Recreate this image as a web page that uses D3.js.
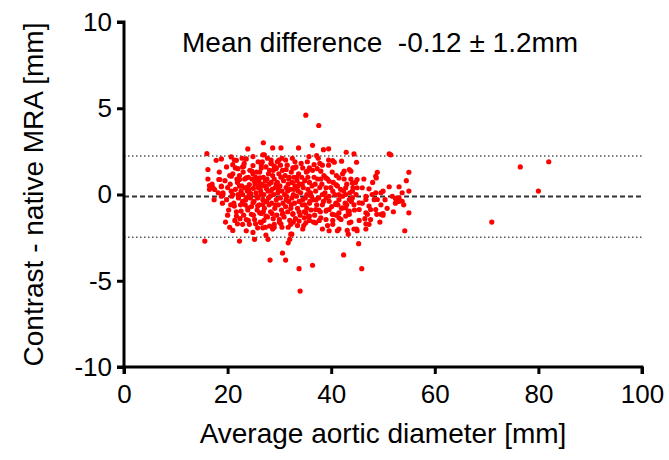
<!DOCTYPE html>
<html>
<head>
<meta charset="utf-8">
<script src="https://cdn.jsdelivr.net/npm/d3@7"></script>
<style>
  body { margin: 0; background: #fff; }
  text { font-family: "Liberation Sans", Arial, Helvetica, sans-serif; fill: #000; }
</style>
</head>
<body>
<div class="mainviz"></div>
<script>
// data: [average diameter mm, contrast - native mm]
var meanDiff = -0.12, sdDiff = 1.2;
var xTicks = [0, 20, 40, 60, 80, 100];
var yTicks = [-10, -5, 0, 5, 10];

var upperPoints = [[26.9,3.0],[28.7,2.7],[30.3,2.7],[33.7,2.7],[23.9,2.64],[16,2.37],[27.1,2.3],[30.5,2.1],[17.8,1.98],[18.8,2.06],
  [20.7,2.18],[21.7,1.98],[22.8,2.1],[23.6,2.06],[21,1.73],[16.2,1.45],[21.5,1.54],[23.1,1.64],[24.9,1.68],[24.7,1.35],
  [26.5,1.73],[28.4,1.79],[29.4,1.54],[31.3,1.45],[32.9,1.54],[34.5,1.54],[16.2,0.9],[18.3,0.87],[16.5,0.52],[17.2,0.39],
  [18.8,0.45],[19.1,0.1],[20.4,1.1],[20.7,0.19],[16.5,0.3],[24.9,2.2],[21.3,2.0],[22.9,1.6],[20.7,1.06],[22.3,0.87],
  [17,0.6],[17.5,0.29],[18.5,0.87],[18.8,0.48],[35.1,4.6],[37.6,4.0],[36.4,2.85],[38.5,2.6],[39.5,2.65],[37.2,2.25],
  [42.9,2.45],[44.4,2.35],[51.2,2.35],[51.5,2.3],[44.9,1.87],[39.5,2.0],[38.3,1.7],[39.5,1.7],[40.6,1.87],[42,1.93],
  [35.8,1.54],[35.4,1.35],[42.2,1.2],[43.5,1.45],[48.9,1.29],[48.7,0.96],[55,1.29],[45,0.87],[26.8,2.3],[28.4,2.0],
  [29,1.64],[32.6,1.54],[36.7,1.73],[38,1.35],[40.3,1.96],[37.5,2.1],[48.6,1.06],[42.5,1.35],[43.8,1.35],[41.5,0.96],
  [39.6,0.77],[44.1,0.67],[39,0.96],[40.9,0.58]];

var lowerPoints = [[15.6,-2.7],[21,-2.08],[22.3,-2.7],[25.2,-2.6],[27.8,-2.6],[28.2,-3.8],[30.6,-3.4],[31.2,-3.8],[31.7,-2.8],[32,-2.6],
  [32.4,-2.3],[33.8,-4.3],[34,-5.6],[45.3,-2.85],[42.4,-3.5],[36.4,-4.1],[45.9,-4.3],[54.2,-2.1],[55,-1.06],[34.5,-2.0],
  [39.6,-2.1],[41.2,-2.1],[43.3,-2.3],[44.4,-2.0],[44.9,-2.0],[46.7,-1.7],[47.6,-1.45],[49.4,-1.6],[50,-1.2],[50.8,-0.8],
  [45.4,-1.5],[43.8,-1.6],[41.9,-1.45],[40.3,-1.5],[39,-1.45],[37.7,-1.5],[35.8,-1.5],[34.8,-1.35],[35.1,-1.06],[41.5,-1.06],
  [43.5,-1.15],[40.2,-1.15],[47,-1.15],[48.8,-1.15],[21.3,-0.67],[21.7,-1.25],[22.6,-0.96],[23.6,-1.45],[22.9,-1.73],[24.2,-1.73],
  [23.6,-2.1],[24.9,-2.2],[25.8,-1.93],[24.6,-1.15],[25.2,-1.45],[26.5,-1.64],[26.2,-1.06],[32.2,-1.73],[28.1,-1.83],[29,-1.73],
  [26.8,-1.93],[30,-1.45],[33.8,-1.54],[35.1,-1.64],[37,-1.64],[38,-1.35],[35.8,-1.25],[32.6,-1.15],[30.6,-1.15],[27.4,-1.25],
  [32.2,-2.3],[27.4,-2.35],[28.7,-2.0],[47.3,-1.73],[46.7,-2.0],[45,-2.1],[43.1,-2.08],[41.5,-2.0],[38.3,-2.0],[40.3,-1.73],
  [43.5,-1.64],[49.6,-1.15],[46.7,-1.06],[50,-1.1],[20,-1.2],[19.6,-1.6],[20.4,-1.9],[21.9,-1.7],[42.8,-1.25],[41.5,-1.35],
  [40.3,-1.15],[39,-0.96],[43.5,-0.96]];

var middlePoints = [[49.6,-0.6],[47.6,-0.87],[48.3,-0.3],[48.6,0.1],[52.4,-0.5],[53.1,-0.2],[53.7,0.1],[55,0.2],[45.4,-0.87],[46,-0.5],
  [44.4,-0.6],[42.8,-0.77],[43.5,-0.3],[42.2,-0.1],[40.9,-0.5],[39.6,-0.87],[38.3,-0.6],[37,-0.87],[35.8,-0.5],[34.5,-0.3],
  [47.3,0.33],[49.6,0.1],[51.2,0.45],[53.1,0.45],[51.8,-0.1],[46.7,-0.1],[46,0.39],[47.9,0],[48.9,-0.29],[46.7,-0.29],
  [45.4,-0.48],[47.3,-0.67],[48.6,-0.87],[52.4,-0.23],[53.7,-0.39],[50,0.19],[53,-0.4],[39,0.39],[40.3,0.19],[41.5,0],
  [42.8,0],[44.1,-0.19],[39.6,-0.39],[40.9,-0.58],[42.2,-0.77],[38.3,0],[42.8,0.39],[44.1,0.19],[45,0.39],[22.9,-0.39],
  [23.9,-0.77],[26.8,-0.58],[25.8,-0.67],[24.9,-0.48],[26.5,0],[25.6,-0.1],[24.2,0],[23.3,0.39],[24.2,0.58],[25.2,0.77],
  [26.2,0.96],[23.6,0.96],[26.5,1.54],[26.2,0.58],[22.3,0.48],[22.6,0.19],[23.6,-0.19],[22,0],[19.1,0.0],[21,0.0]];

var corePoints = [[24.1,0.3],[24.4,-0.2],[24.7,0.9],[24.9,1.2],[25.1,-0.4],[25.3,0.6],[25.5,0.1],[25.7,-0.9],[25.9,0.4],[24.3,1.4],
  [24.6,-0.7],[25.0,-1.2],[25.4,1.0],[25.8,-0.2],[26.0,0.8],[26.1,-0.6],[26.2,1.3],[26.4,0.2],[26.5,-1.1],[26.6,0.6],
  [26.8,-0.3],[26.9,1.0],[27.0,0.0],[27.1,-0.8],[27.2,0.5],[27.4,1.6],[27.5,-0.4],[27.6,0.9],[27.7,-1.3],[27.8,0.2],
  [27.9,1.2],[28.0,-0.6],[26.3,-1.6],[26.7,1.9],[27.3,-1.9],[28.0,0.6],[28.1,1.4],[28.2,-0.1],[28.3,-1.0],[28.4,0.7],
  [28.5,-0.5],[28.6,0.3],[28.7,1.1],[28.8,-1.4],[28.9,0.0],[29.0,0.9],[29.1,-0.8],[29.2,0.4],[29.3,1.5],[29.4,-0.3],
  [29.5,-1.2],[29.6,0.7],[29.7,0.1],[29.8,-0.6],[29.9,1.2],[30.0,-1.6],[28.4,1.8],[29.0,-1.9],[29.6,1.9],[30.1,0.5],
  [30.2,-0.2],[30.3,1.0],[30.4,-0.9],[30.5,0.2],[30.6,1.4],[30.7,-0.5],[30.8,0.8],[30.9,-1.3],[31.0,0.0],[31.1,1.1],
  [31.2,-0.7],[31.3,0.4],[31.4,-0.1],[31.5,1.7],[31.6,-1.0],[31.7,0.6],[31.8,-0.4],[31.9,1.0],[32.0,-1.5],[30.3,-1.7],
  [31.2,2.0],[31.7,-1.9],[32.1,0.3],[32.2,-0.8],[32.3,1.3],[32.4,-0.2],[32.5,0.7],[32.6,-1.1],[32.7,0.0],[32.8,1.0],
  [32.9,-0.5],[33.0,0.5],[33.1,-1.4],[33.2,1.6],[33.3,-0.1],[33.4,0.8],[33.5,-0.8],[33.6,0.2],[33.7,1.2],[33.8,-0.4],
  [33.9,0.6],[34.0,-1.2],[32.5,2.1],[33.5,-1.8],[34.1,0.1],[34.3,1.0],[34.4,-0.6],[34.6,0.4],[34.8,-1.0],[34.9,0.8],
  [35.0,-0.2],[35.2,1.3],[35.3,-0.8],[35.5,0.3],[35.6,-1.3],[35.8,0.7],[35.9,-0.4],[34.2,1.8],[35.4,1.9],[36.0,0.1],
  [36.1,-0.9],[36.3,0.5],[36.5,-0.3],[36.7,1.0],[36.8,-1.2],[37.0,0.2],[37.2,-0.6],[37.4,0.9],[37.6,-0.2],[37.8,0.4],
  [37.9,-1.0],[36.4,1.4],[37.3,1.5],[38.2,0.6],[38.5,-0.4],[38.8,0.1],[39.1,-0.9],[39.3,0.9],[39.6,-0.1],[39.9,0.4],
  [40.1,-0.7],[40.4,0.7],[40.7,0.0],[41.0,-1.2],[41.2,0.5],[41.5,-0.3],[41.8,0.3],[42.0,-0.8],[38.6,1.1],[40.2,1.3],
  [41.0,1.1],[42.4,0.2],[42.7,-0.5],[43.0,0.6],[43.3,-1.0],[43.6,0.1],[43.9,-0.4],[44.2,0.4],[44.5,-0.9],[44.8,0.0],
  [42.5,0.9],[43.8,0.9]];

var extraCorePoints = [[24.5,0.05],[25.6,1.3],[26.3,0.4],[26.9,-1.0],[27.3,0.8],[27.9,-0.2],[28.3,0.2],[28.8,1.4],[29.3,-0.6],[29.8,0.3],
  [30.2,1.7],[30.7,-1.1],[31.3,-0.3],[31.8,0.9],[32.3,-0.6],[32.8,0.3],[33.3,1.0],[33.8,-1.0],[34.4,0.6],[34.9,-0.6],
  [35.5,1.0],[36.2,-0.1],[36.9,0.6],[37.6,-0.9],[38.0,0.9],[22.4,-1.4],[23.4,-0.6],[24.0,-1.5],[25.4,-1.7],[27.0,-1.5],
  [28.6,-1.1],[30.5,-1.9],[32.7,-1.6],[34.7,-1.8],[36.6,-1.6],[39.3,-1.8],[21.8,0.9],[23.2,1.8],[25.9,1.9],[27.7,2.1],
  [29.9,2.0],[33.0,1.9],[35.7,2.2],[37.8,1.8],[19.8,1.6],[18.4,1.3],[17.4,-0.3],[18.2,0.1],[23.8,0.2],[25.0,0.35],
  [27.5,0.35],[29.4,0.6],[31.6,0.2],[33.5,0.45],[35.3,0.0],[37.1,-0.3],[39.0,-0.2],[41.3,-0.6],[43.0,-0.6],[44.7,0.7],
  [46.3,0.9],[46.5,-1.4],[48.0,0.7],[50.4,-0.3],[52.0,-1.0],[54.5,0.8],[54.0,-0.6]];

var leftPoints = [[19.5,0.8],[19.8,-0.3],[20.0,0.4],[20.2,-0.9],[20.5,0.6],[20.8,-0.1],[21.0,1.2],[21.2,-0.5],[21.5,0.3],[21.7,-1.0],
  [21.9,0.7],[22.1,-0.2],[22.3,1.1],[22.5,-0.6],[22.7,0.5],[22.9,0.0],[23.1,-1.2],[23.3,0.9],[23.5,-0.3],[23.7,0.4],
  [23.9,-0.9],[24.0,1.0],[22.0,1.5],[23.0,1.3],[20.6,-0.6],[21.4,-1.5],[19.0,-0.5],[18.8,-0.1]];

var farPoints = [[76.5,1.6],[82,1.9],[80,0.2],[71,-1.6]];

var allPoints = upperPoints.concat(lowerPoints, middlePoints, corePoints, extraCorePoints, leftPoints, farPoints);

var width = 669, height = 460;

var svg = d3.select(".mainviz").append("svg")
	.attr("width", width)
	.attr("height", height);

var x = d3.scaleLinear().domain([0, 100]).range([124, 642]);
var y = d3.scaleLinear().domain([-10, 10]).range([367, 22]);

// mean and limits of agreement
var limits = [meanDiff + 1.96 * sdDiff, meanDiff - 1.96 * sdDiff];

svg.selectAll("line.loa")
	.data(limits)
	.enter().append("line")
	.attr("class", "loa")
	.attr("x1", x(0)).attr("x2", x(100))
	.attr("y1", function(d){ return y(d); })
	.attr("y2", function(d){ return y(d); })
	.attr("stroke", "#555")
	.attr("stroke-width", 1.5)
	.attr("stroke-dasharray", "1.5,2.5");

svg.append("line")
	.attr("x1", x(0)).attr("x2", x(100))
	.attr("y1", y(meanDiff)).attr("y2", y(meanDiff))
	.attr("stroke", "#333")
	.attr("stroke-width", 2)
	.attr("stroke-dasharray", "5,3");

svg.selectAll("circle.pt")
	.data(allPoints)
	.enter().append("circle")
	.attr("class", "pt")
	.attr("cx", function(d){ return x(d[0]); })
	.attr("cy", function(d){ return y(d[1]); })
	.attr("r", 2.6)
	.attr("fill", "#ff0000");

// axes
var fmt = function(d){ return String(d); };
var yAxis = d3.axisLeft(y).tickValues(yTicks).tickFormat(fmt).tickSize(7).tickPadding(5);
var xAxis = d3.axisBottom(x).tickValues(xTicks).tickFormat(fmt).tickSize(7).tickPadding(11);

var gy = svg.append("g")
	.attr("transform", "translate(" + x(0) + ",0)")
	.call(yAxis);

var gx = svg.append("g")
	.attr("transform", "translate(0," + y(-10) + ")")
	.call(xAxis);

[gx, gy].forEach(function(g){
	g.select(".domain").attr("stroke", "#000").attr("stroke-width", 3);
	g.selectAll(".tick line").attr("stroke", "#000").attr("stroke-width", 3);
	g.selectAll(".tick text")
		.attr("font-family", "'Liberation Sans', Arial, sans-serif")
		.attr("font-size", 26)
		.attr("fill", "#000");
});
gy.select(".domain").attr("d", "M-7," + y(10) + "H0V" + y(-10) + "H-7");
gx.select(".domain").attr("d", "M" + x(0) + ",7V0H" + x(100) + "V7");

svg.append("text")
	.attr("x", (x(0) + x(100)) / 2 - 0)
	.attr("y", 443)
	.attr("text-anchor", "middle")
	.attr("font-size", 28)
	.text("Average aortic diameter [mm]");

svg.append("text")
	.attr("transform", "translate(43," + ((y(10) + y(-10)) / 2) + ") rotate(-90)")
	.attr("text-anchor", "middle")
	.attr("font-size", 28)
	.text("Contrast - native MRA [mm]");

svg.append("text")
	.attr("x", 182)
	.attr("y", 52)
	.attr("font-size", 28)
	.style("white-space", "pre")
	.text("Mean difference  -0.12 \u00b1 1.2mm");
</script>
</body>
</html>
